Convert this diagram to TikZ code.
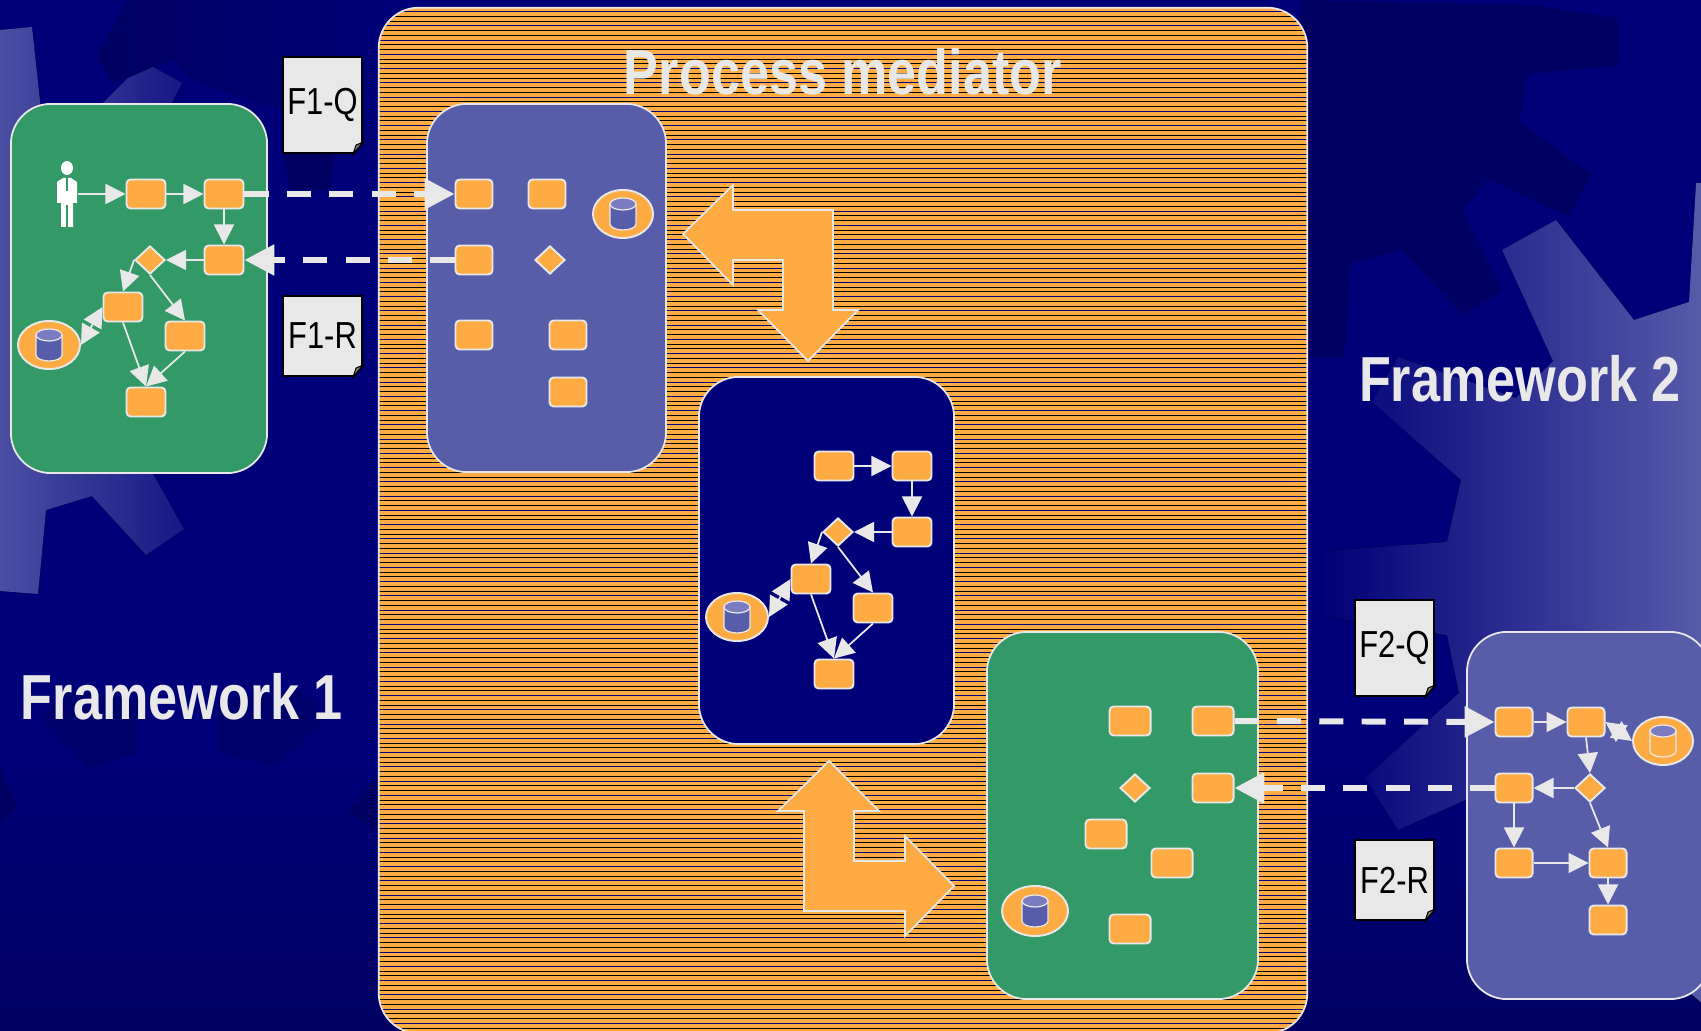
\documentclass[tikz,border=0pt]{standalone}
\usepackage{fontspec}
\setmainfont{Liberation Sans}[FakeStretch=0.82]
\usepackage{xcolor}
\usepackage{tikz}
\usetikzlibrary{arrows.meta, shapes.geometric}
\definecolor{bgnavy}{HTML}{000078}
\definecolor{bgdark}{HTML}{000062}
\definecolor{gearlight}{HTML}{585DAA}
\definecolor{procorange}{HTML}{FDAB42}
\definecolor{procgreen}{HTML}{339966}
\definecolor{procblue}{HTML}{585DAA}
\definecolor{dbtop}{HTML}{7C7CC0}
\definecolor{lightline}{HTML}{E8E8E8}
\tikzset{
    panel/.style={
        rectangle,
        rounded corners=0.4cm,
        draw=lightline,
        line width=0.5pt,
        inner sep=0,
    },
    task/.style={
        rectangle,
        rounded corners=1.2pt,
        draw=lightline,
        line width=0.55pt,
        fill=procorange,
        minimum width=0.39cm,
        minimum height=0.29cm,
        inner sep=0,
    },
    slim/.style={
        task,
        minimum width=0.37cm,
    },
    wide/.style={
        task,
        minimum width=0.41cm,
    },
    gateway/.style={
        diamond,
        draw=lightline,
        line width=0.55pt,
        fill=procorange,
        minimum width=0.3cm,
        minimum height=0.28cm,
        inner sep=0,
    },
    dbdisc/.style={
        ellipse,
        draw=lightline,
        line width=0.55pt,
        fill=procorange,
        minimum width=0.62cm,
        minimum height=0.48cm,
        inner sep=0,
    },
    paper/.style={
        rectangle,
        draw=black,
        line width=0.6pt,
        fill=lightline,
        text=black,
        font=\fontsize{10.7}{12}\selectfont,
        minimum width=0.79cm,
        inner sep=0,
    },
    heading/.style={
        text=lightline,
        font=\fontsize{18.1}{20}\selectfont\bfseries,
        inner sep=0,
    },
    flow/.style={
        draw=lightline,
        line width=0.5pt,
        -{Triangle[length=5.7pt,width=5.7pt]},
    },
    xchange/.style={
        draw=lightline,
        line width=0.5pt,
        {Triangle[length=5.7pt,width=5.7pt]}-{Triangle[length=5.7pt,width=5.7pt]},
    },
    msgflow/.style={
        draw=lightline,
        line width=1.7pt,
        dash pattern=on 6.85pt off 5.2pt,
        -{Triangle[length=8.5pt,width=8.5pt]},
    },
    bigarrow/.style={
        draw=lightline,
        line width=0.5pt,
        fill=procorange,
    },
    pics/dbicon/.style={
        code={
            \draw[lightline, line width=0.35pt, fill=#1] (-13,-10) -- (-13,10)
                arc[start angle=180,end angle=360,x radius=0.13cm,y radius=0.06cm] -- (13,-10) -- cycle;
            \draw[lightline, line width=0.35pt, fill=dbtop] (0,-10) ellipse [x radius=0.13cm,y radius=0.06cm];
        }
    },
    pics/manicon/.style={
        code={
            \fill[white] (0,-29) ellipse [x radius=0.06cm,y radius=0.07cm];
            \fill[white] (-10,-15) -- (-4,-19) -- (4,-19) -- (10,-15) -- (10,6) -- (6,6) -- (6,30)
                -- (-6,30) -- (-6,6) -- (-10,6) -- cycle;
            \draw[procgreen, line width=0.3pt] (0,-19) -- (0,-6) (0,8) -- (0,30);
        }
    },
}
\begin{document}
\begin{tikzpicture}[x=0.01cm,y=-0.01cm]
    \useasboundingbox (0,0) rectangle (1701,1031);
    \fill[bgnavy] (0,0) rectangle (1701,760);
    \fill[top color=bgnavy, bottom color=bgdark] (0,760) rectangle (1701,1031);

    % dark gears
    \fill[bgdark] (1300,0) -- (1530,5) -- (1617,18) -- (1619,65) -- (1528,74) -- (1519,121) -- (1592,175) -- (1568,216)
        -- (1488,179) -- (1462,211) -- (1502,291) -- (1462,315) -- (1402,250) -- (1351,263) -- (1344,358) -- (1300,357) -- cycle;
    \fill[left color=bgdark, right color=bgnavy] (97,55) -- (130,0) -- (400,0) -- (400,70) -- (283,110) -- (195,80)
        -- (172,58) -- (153,67) -- (113,83) -- cycle;
    \fill[bgdark] (283,150) -- (335,150) -- (330,190) -- (290,190) -- cycle;
    \fill[bgdark!60!bgnavy] (43,720) -- (90,769) -- (135,753) -- (138,700) -- (60,690) -- cycle;
    \fill[bgdark!60!bgnavy] (218,700) -- (218,753) -- (275,767) -- (328,717) -- (300,690) -- cycle;
    \fill[bgdark] (0,767) -- (17,807) -- (0,825) -- cycle;
    \fill[bgdark] (385,767) -- (348,811) -- (385,838) -- cycle;

    % light gears
    \fill[left color=gearlight!85!bgnavy, right color=bgnavy] (0,30) -- (32,27) -- (41,110) -- (103,103) -- (128,78) -- (153,67)
        -- (182,83) -- (172,103) -- (262,120) -- (262,460) -- (152,472) -- (184,529) -- (146,555) -- (92,496)
        -- (46,510) -- (38,594) -- (0,591) -- cycle;
    \fill[left color=bgnavy, right color=gearlight] (1710,183) -- (1696,183) -- (1689,302) -- (1634,320) -- (1556,220) -- (1502,250)
        -- (1553,361) -- (1516,398) -- (1398,357) -- (1372,402) -- (1461,480) -- (1447,542) -- (1323,551) -- (1320,616)
        -- (1447,635) -- (1459,693) -- (1365,778) -- (1398,830) -- (1465,800) -- (1710,1010) -- cycle;

    % mediator with its stripes
    \begin{scope}
        \clip[rounded corners=0.4cm] (379,8) rectangle (1307,1033);
        \fill[procorange] (379,8) rectangle (1307,1033);
        \foreach \i in {0,...,72} {
            \draw[bgnavy, line width=0.2pt] (379,{11.5+14.25*\i}) -- (1307,{11.5+14.25*\i});
            \draw[black, line width=0.2pt] (379,{16.25+14.25*\i}) -- (1307,{16.25+14.25*\i});
            \draw[black, line width=0.2pt] (379,{21+14.25*\i}) -- (1307,{21+14.25*\i});
        }
    \end{scope}
    \node [panel, minimum width=9.28cm, minimum height=10.25cm] (mediator) at (843,520.5) {};

    \node [panel, fill=procgreen, minimum width=2.56cm, minimum height=3.69cm] (leftpanel) at (139,288.5) {};
    \node [panel, fill=procblue, minimum width=2.39cm, minimum height=3.68cm] (querypanel) at (546.5,288) {};
    \node [panel, fill=bgnavy, minimum width=2.55cm, minimum height=3.67cm] (midpanel) at (826.5,560.5) {};
    \node [panel, fill=procgreen, minimum width=2.71cm, minimum height=3.67cm] (replypanel) at (1122.5,815.5) {};
    \node [panel, fill=procblue, minimum width=2.43cm, minimum height=3.67cm] (rightpanel) at (1588.5,815.5) {};

    \node [heading] (mediatortitle) at (843,72) {Process mediator};
    \node [heading] (frameworkone) at (182,697) {Framework 1};
    \node [heading] (frameworktwo) at (1520,379) {Framework 2};

    % mediator arrows
    \draw[bigarrow] (683,234) -- (733,185) -- (733,210) -- (833,210) -- (833,310) -- (858,310) -- (808,361) -- (758,310)
        -- (783,310) -- (783,260) -- (733,260) -- (733,285) -- cycle;
    \draw[bigarrow] (829,761) -- (879,811) -- (854,811) -- (854,861) -- (905,861) -- (905,836) -- (954,886) -- (905,936)
        -- (905,911) -- (804,911) -- (804,811) -- (778,811) -- cycle;

    % framework 1
    \node [minimum width=0.2cm, minimum height=0.66cm, inner sep=0] (man) at (67,197) {};
    \pic at (man) {manicon};
    \node [task] (a1) at (146,194) {};
    \node [task] (a2) at (224,194) {};
    \node [task] (a3) at (224,260) {};
    \node [gateway] (a4) at (150,260) {};
    \node [task] (a5) at (123,307) {};
    \node [task] (a6) at (185,336) {};
    \node [task] (a7) at (146,402) {};
    \node [dbdisc] (adb) at (49,345) {};
    \pic at (adb) {dbicon=procblue};

    \draw[flow] (man.east |- a1) -- (a1.west);
    \draw[flow] (a1) -- (a2);
    \draw[flow] (a2) -- (a3);
    \draw[flow] (a3) -- (a4);
    \draw[flow] (a4.west) -- (a5.north);
    \draw[flow] (a4.south) -- (a6.north);
    \draw[flow] (a5.south) -- (a7.north);
    \draw[flow] (a6.south) -- (a7.north);
    \draw[xchange] (a5.west) -- (adb.east);

    % query side of the mediator
    \node [slim] (q1) at (474,194) {};
    \node [slim] (q2) at (547,194) {};
    \node [slim] (q3) at (474,260) {};
    \node [gateway] (q4) at (550,260) {};
    \node [slim] (q5) at (474,335) {};
    \node [slim] (q6) at (568,335) {};
    \node [slim] (q7) at (568,392) {};
    \node [dbdisc, minimum width=0.6cm] (qdb) at (623,214) {};
    \pic at (qdb) {dbicon=procblue};

    % middle of the mediator
    \node [task] (m1) at (834,466) {};
    \node [task] (m2) at (912,466) {};
    \node [task] (m3) at (912,532) {};
    \node [gateway] (m4) at (838,532) {};
    \node [task] (m5) at (811,579) {};
    \node [task] (m6) at (873,608) {};
    \node [task] (m7) at (834,674) {};
    \node [dbdisc] (mdb) at (737,617) {};
    \pic at (mdb) {dbicon=procblue};

    \draw[flow] (m1) -- (m2);
    \draw[flow] (m2) -- (m3);
    \draw[flow] (m3) -- (m4);
    \draw[flow] (m4.west) -- (m5.north);
    \draw[flow] (m4.south) -- (m6.north);
    \draw[flow] (m5.south) -- (m7.north);
    \draw[flow] (m6.south) -- (m7.north);
    \draw[xchange] (m5.west) -- (mdb.east);

    % reply side of the mediator
    \node [wide] (r1) at (1130,721) {};
    \node [wide] (r2) at (1213,721) {};
    \node [gateway] (r3) at (1135,788) {};
    \node [wide] (r4) at (1213,788) {};
    \node [wide] (r5) at (1106,834) {};
    \node [wide] (r6) at (1172,863) {};
    \node [wide] (r7) at (1130,929) {};
    \node [dbdisc, minimum width=0.66cm, minimum height=0.5cm] (rdb) at (1035,911) {};
    \pic at (rdb) {dbicon=procblue};

    % framework 2
    \node [slim] (b1) at (1514,722) {};
    \node [slim] (b2) at (1586,722) {};
    \node [gateway] (b3) at (1590,788) {};
    \node [slim] (b4) at (1514,788) {};
    \node [slim] (b5) at (1514,863) {};
    \node [slim] (b6) at (1608,863) {};
    \node [slim] (b7) at (1608,920) {};
    \node [dbdisc, minimum width=0.6cm] (bdb) at (1663,741) {};
    \pic at (bdb) {dbicon=procorange};

    \draw[flow] (b1) -- (b2);
    \draw[flow] (b2.south) -- (b3.north);
    \draw[flow] (b3) -- (b4);
    \draw[flow] (b4) -- (b5);
    \draw[flow] (b5) -- (b6);
    \draw[flow] (b3.south) -- (b6.north);
    \draw[flow] (b6) -- (b7);
    \draw[xchange] (b2.east) -- (bdb.west);

    % messages between frameworks and mediator
    \draw[msgflow] (a2.east) -- (q1.west);
    \draw[msgflow] (q3.west) -- (a3.east);
    \draw[msgflow] (r2.east) -- (b1.west);
    \draw[msgflow] (b4.west) -- (r4.east);

    % papers
    \node [paper, minimum height=0.96cm] (f1q) at (322.5,105) {F1-Q};
    \node [paper, minimum height=0.8cm] (f1r) at (322.5,336) {F1-R};
    \node [paper, minimum height=0.96cm] (f2q) at (1394.5,648) {F2-Q};
    \node [paper, minimum height=0.8cm] (f2r) at (1394.5,880) {F2-R};
    \foreach \n in {f1q,f1r,f2q,f2r} {
        \fill[bgnavy] (\n.south east) +(-10,1) -- +(1,-13) -- +(1,1) -- cycle;
        \draw[black, line width=0.6pt] (\n.south east) +(-10,0) -- +(0,-12);
        \draw[black, line width=0.3pt, fill=gray] (\n.south east) +(-10,0) -- +(-7,-9) -- +(0,-12) -- cycle;
    }
\end{tikzpicture}
\end{document}
